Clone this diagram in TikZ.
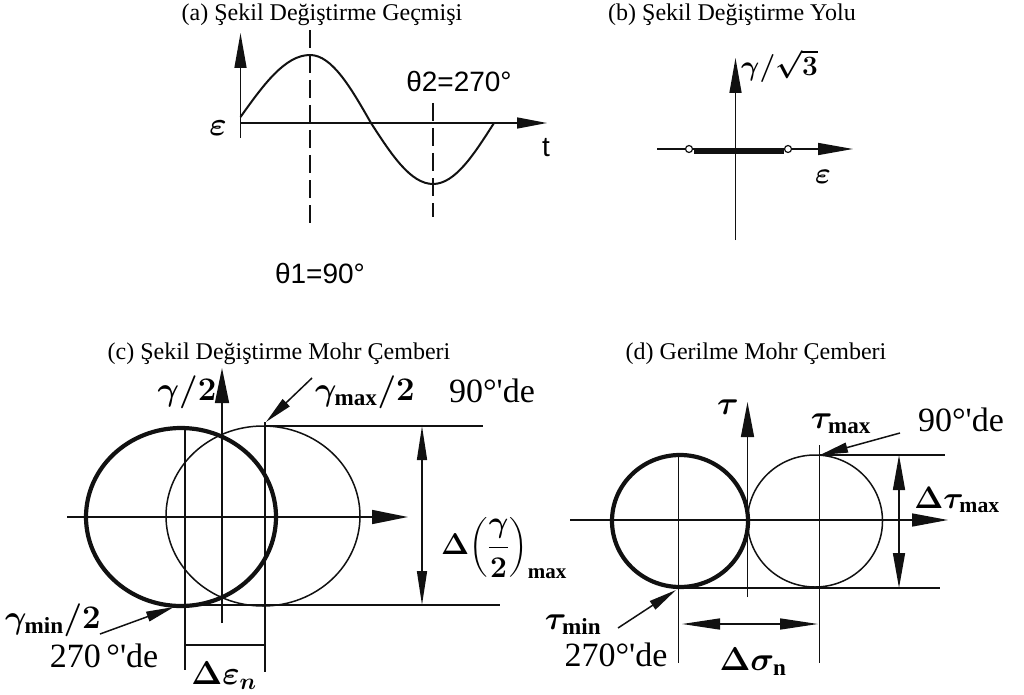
\RequirePackage{fix-cm}
\documentclass[tikz,border=0pt]{standalone}
\usepackage{amsmath}
\usepackage{fontspec}
\setmainfont{Liberation Serif}
\newfontfamily\arialfont{Liberation Sans}
\usepackage{tikz}
\usetikzlibrary{arrows.meta}
\definecolor{ink}{HTML}{111111}
\tikzset{
  ttl/.style={font=\fontsize{24}{28}\selectfont,inner sep=0pt},
  sanslbl/.style={font=\arialfont\fontsize{28}{31}\selectfont,inner sep=0pt},
  symlbl/.style={font=\fontsize{33}{37}\selectfont\boldmath,inner sep=0pt},
  delbl/.style={font=\fontsize{34}{37}\selectfont,inner sep=0pt},
  axisln/.style={draw=ink,line width=1.5pt},
  axisarr/.style={axisln,-{Triangle[length=35pt,width=12pt]}},
  dimarr/.style={axisln,{Triangle[length=34pt,width=10pt]}-{Triangle[length=34pt,width=10pt]}},
  leadarr/.style={axisln,-{Triangle[length=28pt,width=10pt]}},
  thinc/.style={draw=ink,line width=1.5pt},
  thickc/.style={draw=ink,line width=4.2pt},
  dashln/.style={axisln,dash pattern=on 18pt off 7pt}
}

\begin{document}
\begin{tikzpicture}[x=1pt,y=-1pt]
  \useasboundingbox (0,0) rectangle (1024,695);
  % (a)
  \node[ttl] (ttla) at (322,15) {(a) Şekil Değiştirme Geçmişi};
  \coordinate (aorg) at (240.5,123);
  \draw[axisarr] (240.5,138) -- (240.5,33);
  \draw[axisln,-{Triangle[length=30pt,width=11pt]}] (aorg) -- (547,123);
  \draw[draw=ink,line width=2pt] (240.5,117) sin (310,55) cos (371,123) sin (433,184) cos (494,123);
  \foreach \xx/\ya/\yb in {310/30/224,433/103/217}
    \draw[dashln] (\xx,\ya) -- (\xx,\yb);
  \node[symlbl] (epsa) at (218,128) {$\varepsilon$};
  \node[sanslbl] (ta) at (546,148) {t};
  \node[sanslbl] (thb) at (459,82) {θ2=270°};
  \node[sanslbl] (tha) at (320,273) {θ1=90°};
  % (b)
  \node[ttl] (ttlb) at (732,15) {(b) Şekil Değiştirme Yolu};
  \draw[axisarr] (735.5,240) -- (735.5,58);
  \draw[axisarr] (657,149) -- (853,149);
  \draw[draw=ink,line width=5pt] (694,152) -- (784,152);
  \foreach \xx in {689,788}
    \draw[thinc,line width=1.2pt,fill=white] (\xx,149) circle (3.5);
  \node[symlbl,font=\fontsize{28}{32}\selectfont\boldmath,anchor=west] (gb) at (741,66) {$\gamma/\sqrt{3}$};
  \node[symlbl,font=\fontsize{30}{34}\selectfont\boldmath] (eb) at (823,177) {$\varepsilon$};
  % (c)
  \node[ttl] (ttlc) at (279,354) {(c) Şekil Değiştirme Mohr Çemberi};
  \draw[axisarr,-{Triangle[length=35pt,width=14pt]}] (222,623) -- (222,368);
  \draw[axisarr,-{Triangle[length=36pt,width=14pt]}] (67,517) -- (408,517);
  \draw[thickc] (181,517) ellipse [x radius=95, y radius=89];
  \draw[thinc] (263,516) ellipse [x radius=97, y radius=90];
  \draw[axisln] (185,428) -- (185,670) (265,422) -- (265,672);
  \draw[axisln] (265,426) -- (483,426) (175,605) -- (500,605);
  \draw[axisln] (185,645) -- (265,645);
  \draw[dimarr] (422,426) -- (422,605);
  \node[symlbl] (gc) at (187,392) {$\gamma/2$};
  \node[symlbl,anchor=west] (gmaxc) at (315,392) {$\gamma_{\max}/2$};
  \node[delbl] (degc1) at (492,391) {90°\textquotesingle de};
  \node[symlbl,font=\fontsize{30}{34}\selectfont\boldmath,anchor=west] (dgc) at (441,548) {$\Delta\!\left(\dfrac{\gamma}{2}\right)_{\max}$};
  \node[symlbl,anchor=west] (gminc) at (5,620) {$\gamma_{\min}/2$};
  \node[delbl] (degc2) at (104,656) {270\,°\textquotesingle de};
  \node[symlbl] (depc) at (224,676) {$\Delta\varepsilon_n$};
  \coordinate (gmaxpt) at (266,422);
  \coordinate (gmaxtl) at (312,378);
  \coordinate (gminpt) at (174,607);
  \coordinate (gmintl) at (100,634);
  \draw[leadarr] (gmaxtl) -- (gmaxpt);
  \draw[leadarr] (gmintl) -- (gminpt);
  % (d)
  \node[ttl] (ttld) at (756,354) {(d) Gerilme Mohr Çemberi};
  \draw[axisarr,-{Triangle[length=35pt,width=13pt]}] (747.5,597) -- (747.5,402);
  \draw[axisarr,-{Triangle[length=36pt,width=13pt]}] (570,520) -- (948,520);
  \draw[thickc] (680,521) ellipse [x radius=68, y radius=66];
  \draw[thinc] (815,521) ellipse [x radius=67.5, y radius=66];
  \draw[axisln] (678.5,456) -- (678.5,663) (819.5,445) -- (819.5,663);
  \draw[axisln] (819.5,455) -- (945,455) (678.5,588) -- (940,588);
  \draw[dimarr,{Triangle[length=35pt,width=12pt]}-{Triangle[length=35pt,width=12pt]}] (899,455) -- (899,588);
  \draw[dimarr,{Triangle[length=38pt,width=11pt]}-{Triangle[length=38pt,width=11pt]}] (682,624) -- (818,624);
  \node[symlbl] (taud) at (728,407) {$\tau$};
  \node[symlbl] (tmaxd) at (841,424) {$\tau_{\max}$};
  \node[delbl] (degd1) at (961,420) {90°\textquotesingle de};
  \node[symlbl,font=\fontsize{31}{35}\selectfont\boldmath] (dtaud) at (957,500) {$\Delta\tau_{\max}$};
  \node[symlbl] (tmind) at (573,625) {$\tau_{\min}$};
  \node[delbl] (degd2) at (616,655) {270°\textquotesingle de};
  \node[symlbl] (dsigd) at (753,662) {$\Delta\sigma_{\mathrm{n}}$};
  \coordinate (tmaxpt) at (820,455);
  \coordinate (tmaxtl) at (900,433);
  \coordinate (tminpt) at (676,590);
  \coordinate (tmintl) at (618,628);
  \draw[leadarr] (tmaxtl) -- (tmaxpt);
  \draw[leadarr] (tmintl) -- (tminpt);
\end{tikzpicture}
\end{document}
